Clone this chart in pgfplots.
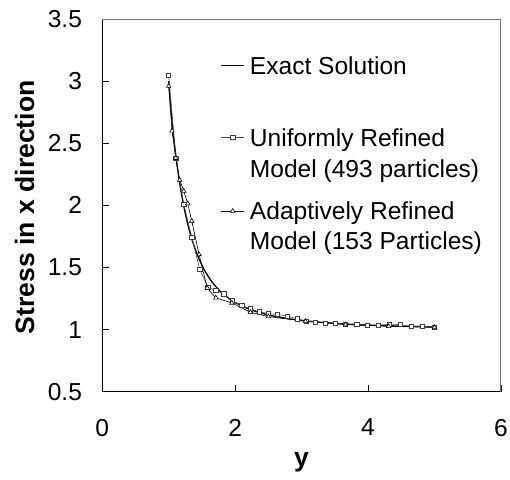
\documentclass[border=0pt]{standalone}
\usepackage{fontspec}
\setmainfont{Liberation Sans}
\usepackage{pgfplots}
\pgfplotsset{compat=1.18}
\newcommand{\lt}[2]{\raisebox{0pt}[#1][0pt]{#2}}
\begin{document}
\fontsize{24.5}{29}\selectfont
\begin{tikzpicture}
\begin{axis}[
  scale only axis, width=398pt, height=372pt,
  xmin=0, xmax=6, ymin=0.5, ymax=3.5,
  xtick={0,2,4,6}, ytick={0.5,1,1.5,2,2.5,3,3.5},
  axis x line*=bottom, axis y line*=left,
  tick align=inside, major tick length=7pt,
  tick style={black, line width=0.8pt},
  axis line style={black, line width=1pt},
  /pgf/number format/assume math mode=true,
  ticklabel style={font=\fontsize{24.5}{29}\selectfont, inner sep=0pt},
  xticklabel style={yshift=-27pt},
  yticklabel style={xshift=-20pt},
  label style={font=\fontsize{26.5}{30}\selectfont\bfseries, inner sep=0pt},
  xlabel={y}, ylabel={Stress in x direction},
  xlabel style={at={(rel axis cs:0.5,0)}, anchor=base, yshift=-75pt},
  ylabel style={at={([xshift=-68pt]rel axis cs:0,0.495)}, anchor=base},
  legend style={draw=none, fill=none, inner sep=0pt, at={(rel axis cs:0.2965,0.9007)}, anchor=north west,
    cells={anchor=base west}, row sep=0pt,
    nodes={font=\fontsize{24.5}{29}\selectfont, inner xsep=5pt, inner ysep=0pt}},
  legend image code/.code={\draw[mark repeat=2,mark phase=2,#1] plot coordinates {(0pt,8.5pt) (11.5pt,8.5pt) (23pt,8.5pt)};},
  after end axis/.code={
    \draw[black!55, line width=1pt] (rel axis cs:0,1) -- (rel axis cs:1,1) -- (rel axis cs:1,0);
    \path (rel axis cs:0,0) -- ++(-102pt,-88pt);
    \path (rel axis cs:1,1) -- ++(9pt,19pt);
  },
]
\addplot[black, line width=1.3pt, no marks] coordinates {
(1.0,3.0) (1.025,2.8348) (1.05,2.6876) (1.075,2.5559) (1.1,2.4377) (1.125,2.3315)
(1.15,2.2357) (1.175,2.1491) (1.2,2.0706) (1.25,1.9344) (1.3,1.8211) (1.35,1.7260)
(1.4,1.6456) (1.45,1.5771) (1.5,1.5185) (1.55,1.4680) (1.6,1.4242) (1.65,1.3860)
(1.7,1.3526) (1.75,1.3232) (1.8,1.2972) (1.9,1.2536) (2.0,1.2188) (2.1,1.1905)
(2.2,1.1673) (2.3,1.1481) (2.4,1.1320) (2.5,1.1184) (2.6,1.1068) (2.8,1.0882)
(3.0,1.0741) (3.25,1.0608) (3.5,1.0508) (3.75,1.0431) (4.0,1.0371) (4.25,1.0323)
(4.5,1.0283) (4.75,1.0251) (5.0,1.0224)
};
\addlegendentry{\lt{18pt}{Exact Solution}}
\addplot[black!70, line width=0.6pt, mark=square*, mark size=2.1pt,
  mark options={fill=white, draw=black!75, line width=0.6pt}] coordinates {
(1.0,3.05) (1.106,2.38) (1.227,2.01) (1.347,1.745) (1.468,1.485) (1.59,1.34)
(1.71,1.315) (1.83,1.288) (1.956,1.232) (2.10,1.194) (2.23,1.167) (2.36,1.143)
(2.50,1.131) (2.64,1.121) (2.78,1.11) (2.93,1.088) (3.07,1.07) (3.21,1.062)
(3.36,1.054) (3.51,1.048) (3.66,1.046) (3.83,1.04) (3.99,1.038) (4.15,1.032)
(4.32,1.046) (4.48,1.04) (4.65,1.027) (4.82,1.027) (5.0,1.022)
};
\addlegendentry{\lt{68pt}{Uniformly Refined}}
\addlegendimage{empty legend}
\addlegendentry{\lt{28pt}{Model (493 particles)}}
\addplot[black, line width=0.6pt, mark=triangle*, mark size=2.6pt,
  mark options={fill=white, draw=black, line width=0.6pt}] coordinates {
(1.0,2.96) (1.05,2.6) (1.106,2.38) (1.166,2.205) (1.227,2.115) (1.287,2.015)
(1.347,1.875) (1.458,1.605) (1.58,1.335) (1.71,1.256) (1.95,1.215) (2.23,1.14)
(2.5,1.105) (3.06,1.067) (3.66,1.04) (4.31,1.027) (5.0,1.018)
};
\addlegendentry{\lt{38pt}{Adaptively Refined}}
\addlegendimage{empty legend}
\addlegendentry{\lt{26pt}{Model (153 Particles)}}
\end{axis}
\end{tikzpicture}
\end{document}
